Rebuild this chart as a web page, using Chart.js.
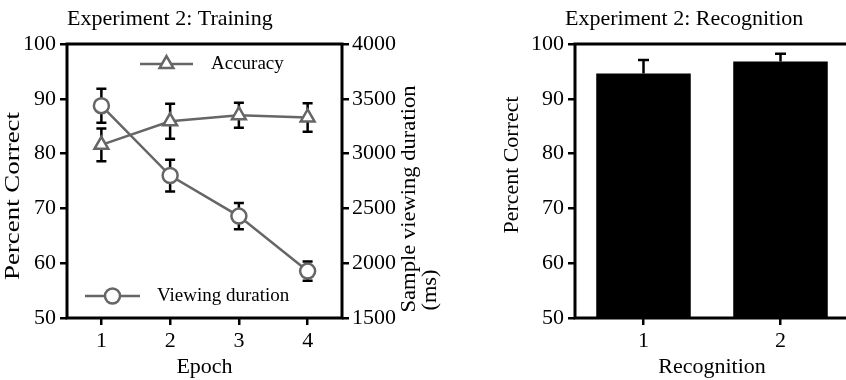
<!DOCTYPE html>
<html>
<head>
<meta charset="utf-8">
<script src="https://cdn.jsdelivr.net/npm/chart.js@4.4.1/dist/chart.umd.min.js"></script>
<style>
  html, body { margin: 0; padding: 0; background: #fff; overflow: hidden; width: 846px; height: 380px; }
  canvas { position: absolute; top: 0; }
  #trainChart { left: 0; }
  #recogChart { left: 450px; }
</style>
</head>
<body>
<canvas id="trainChart" width="450" height="380"></canvas>
<canvas id="recogChart" width="410" height="380"></canvas>
<script>
// данные
const epochs = ['1', '2', '3', '4'];
const accuracy = [81.6, 85.9, 87.0, 86.6];
const accuracyErr = [3.0, 3.2, 2.3, 2.6];
const viewingMs = [3437, 2800, 2430, 1928];
const viewingErr = [155, 145, 120, 88];

const recogLabels = ['1', '2'];
const recogAccuracy = [94.6, 96.8];
const recogErr = [2.5, 1.4];

const SERIF = '"Liberation Serif", "Times New Roman", serif';
const GREY = '#666666';

// вертикальный текст, растянутый до нужной длины
function vText(ctx, text, x, y, len, size) {
    ctx.save();
    ctx.font = size + 'px ' + SERIF;
    ctx.fillStyle = '#000';
    ctx.translate(x, y);
    ctx.rotate(-Math.PI / 2);
    const w = ctx.measureText(text).width;
    ctx.scale(len / w, 1);
    ctx.textAlign = 'center';
    ctx.textBaseline = 'middle';
    ctx.fillText(text, 0, 0);
    ctx.restore();
}

function hText(ctx, text, x, y, size) {
    ctx.save();
    ctx.font = size + 'px ' + SERIF;
    ctx.fillStyle = '#000';
    ctx.textAlign = 'left';
    ctx.textBaseline = 'middle';
    ctx.fillText(text, x, y);
    ctx.restore();
}

function marker(ctx, style, x, y, r) {
    ctx.save();
    ctx.fillStyle = '#fff';
    ctx.strokeStyle = GREY;
    ctx.lineWidth = 2.5;
    ctx.beginPath();
    if (style === 'circle') {
        ctx.arc(x, y, r, 0, Math.PI * 2);
    } else {
        let a = 0;
        ctx.moveTo(x + Math.sin(a) * r, y - Math.cos(a) * r);
        a += Math.PI * 2 / 3;
        ctx.lineTo(x + Math.sin(a) * r, y - Math.cos(a) * r);
        a += Math.PI * 2 / 3;
        ctx.lineTo(x + Math.sin(a) * r, y - Math.cos(a) * r);
        ctx.closePath();
    }
    ctx.fill();
    ctx.stroke();
    ctx.restore();
}

function drawErrors(chart, opts) {
    const ctx = chart.ctx;
    ctx.save();
    ctx.strokeStyle = '#000';
    ctx.lineWidth = 2.5;
    chart.data.datasets.forEach((ds, i) => {
        if (!ds.errors) return;
        const meta = chart.getDatasetMeta(i);
        const yScale = chart.scales[meta.yAxisID];
        meta.data.forEach((el, j) => {
            const v = ds.data[j];
            const e = ds.errors[j];
            const yTop = yScale.getPixelForValue(v + e);
            const yBot = yScale.getPixelForValue(opts.upOnly ? v : v - e);
            ctx.beginPath();
            ctx.moveTo(el.x, yTop);
            ctx.lineTo(el.x, yBot);
            ctx.moveTo(el.x - opts.cap, yTop);
            ctx.lineTo(el.x + opts.cap, yTop);
            if (!opts.upOnly) {
                ctx.moveTo(el.x - opts.cap, yBot);
                ctx.lineTo(el.x + opts.cap, yBot);
            }
            ctx.stroke();
        });
    });
    ctx.restore();
}

const errorBars = {
    id: 'errorBars',
    beforeDatasetsDraw(chart, args, opts) {
        if (!opts.after) drawErrors(chart, opts);
    },
    afterDatasetsDraw(chart, args, opts) {
        if (opts.after) drawErrors(chart, opts);
    }
};

// рамка вокруг области графика
const frame = {
    id: 'frame',
    afterDraw(chart) {
        const { ctx, chartArea: a } = chart;
        ctx.save();
        ctx.strokeStyle = '#000';
        ctx.lineWidth = 3;
        ctx.strokeRect(a.left, a.top, a.right - a.left, a.bottom - a.top);
        ctx.restore();
    }
};

const labels = {
    id: 'labels',
    afterDraw(chart, args, opts) {
        const ctx = chart.ctx;
        ctx.save();
        ctx.font = '22px ' + SERIF;
        ctx.fillStyle = '#000';
        ctx.textBaseline = 'alphabetic';
        ctx.fillText(opts.title, opts.titleX, 25);
        ctx.restore();
        (opts.vertical || []).forEach(t => vText(ctx, t.text, t.x, t.y, t.len, 20));
        (opts.legend || []).forEach(l => {
            ctx.save();
            ctx.strokeStyle = GREY;
            ctx.lineWidth = 2.5;
            ctx.beginPath();
            ctx.moveTo(l.x1, l.y);
            ctx.lineTo(l.x2, l.y);
            ctx.stroke();
            ctx.restore();
            marker(ctx, l.style, (l.x1 + l.x2) / 2, l.y, l.r);
            hText(ctx, l.text, l.tx, l.y, 19);
        });
    }
};

function tickGrid() {
    return { display: true, drawOnChartArea: false, drawTicks: true, tickLength: 7, lineWidth: 2.5, color: '#000', offset: false };
}
function tickFont() {
    return { color: '#000', font: { family: SERIF, size: 22 }, format: { useGrouping: false } };
}

new Chart(document.getElementById('trainChart'), {
    type: 'line',
    data: {
        labels: epochs,
        datasets: [{
            label: 'Accuracy',
            data: accuracy,
            errors: accuracyErr,
            yAxisID: 'y',
            borderColor: GREY,
            borderWidth: 2.5,
            pointStyle: 'triangle',
            pointRadius: 8,
            pointBackgroundColor: '#fff',
            pointBorderColor: GREY,
            pointBorderWidth: 2.5,
            tension: 0
        }, {
            label: 'Viewing duration',
            data: viewingMs,
            errors: viewingErr,
            yAxisID: 'y1',
            borderColor: GREY,
            borderWidth: 2.5,
            pointStyle: 'circle',
            pointRadius: 7.5,
            pointBackgroundColor: '#fff',
            pointBorderColor: GREY,
            pointBorderWidth: 2.5,
            tension: 0
        }]
    },
    options: {
        responsive: false,
        animation: false,
        layout: { padding: { top: 44, left: 0, right: 0, bottom: 0 } },
        plugins: {
            legend: { display: false },
            tooltip: { enabled: false },
            errorBars: { cap: 5, upOnly: false, after: false },
            labels: {
                title: 'Experiment 2: Training',
                titleX: 67,
                vertical: [
                    { text: 'Percent Correct', x: 14, y: 196, len: 168 },
                    { text: 'Sample viewing duration', x: 410, y: 199, len: 227 },
                    { text: '(ms)', x: 431, y: 290, len: 41 }
                ],
                legend: [
                    { text: 'Accuracy', style: 'triangle', r: 8, x1: 140, x2: 193, y: 64, tx: 211 },
                    { text: 'Viewing duration', style: 'circle', r: 7.5, x1: 85, x2: 140, y: 296, tx: 157 }
                ]
            }
        },
        scales: {
            x: {
                type: 'category',
                offset: true,
                grid: tickGrid(),
                border: { display: false },
                ticks: { ...tickFont(), padding: 3, maxRotation: 0 },
                title: { display: true, text: 'Epoch', color: '#000', font: { family: SERIF, size: 22, lineHeight: 1 }, padding: { top: 0, bottom: 2 } },
                afterFit: s => { s.height = 62; }
            },
            y: {
                position: 'left',
                min: 50,
                max: 100,
                grid: tickGrid(),
                border: { display: false },
                ticks: { ...tickFont(), stepSize: 10, padding: 4 },
                afterFit: s => { s.width = 67; }
            },
            y1: {
                position: 'right',
                min: 1500,
                max: 4000,
                grid: tickGrid(),
                border: { display: false },
                ticks: { ...tickFont(), stepSize: 500, padding: 3 },
                afterFit: s => { s.width = 108; }
            }
        }
    },
    plugins: [errorBars, frame, labels]
});

new Chart(document.getElementById('recogChart'), {
    type: 'bar',
    data: {
        labels: recogLabels,
        datasets: [{
            label: 'Recognition',
            data: recogAccuracy,
            errors: recogErr,
            backgroundColor: '#000',
            borderWidth: 0,
            barPercentage: 0.69,
            categoryPercentage: 1
        }]
    },
    options: {
        responsive: false,
        animation: false,
        layout: { padding: { top: 44, left: 0, right: 11, bottom: 0 } },
        plugins: {
            legend: { display: false },
            tooltip: { enabled: false },
            errorBars: { cap: 5.5, upOnly: true, after: true },
            labels: {
                title: 'Experiment 2: Recognition',
                titleX: 115,
                vertical: [
                    { text: 'Percent Correct', x: 63, y: 165, len: 137 }
                ]
            }
        },
        scales: {
            x: {
                type: 'category',
                grid: tickGrid(),
                border: { display: false },
                ticks: { ...tickFont(), padding: 3, maxRotation: 0 },
                title: { display: true, text: 'Recognition', color: '#000', font: { family: SERIF, size: 22, lineHeight: 1 }, padding: { top: 0, bottom: 2 } },
                afterFit: s => { s.height = 62; }
            },
            y: {
                min: 50,
                max: 100,
                grid: tickGrid(),
                border: { display: false },
                ticks: { ...tickFont(), stepSize: 10, padding: 4 },
                afterFit: s => { s.width = 125; }
            }
        }
    },
    plugins: [errorBars, frame, labels]
});
</script>
</body>
</html>
